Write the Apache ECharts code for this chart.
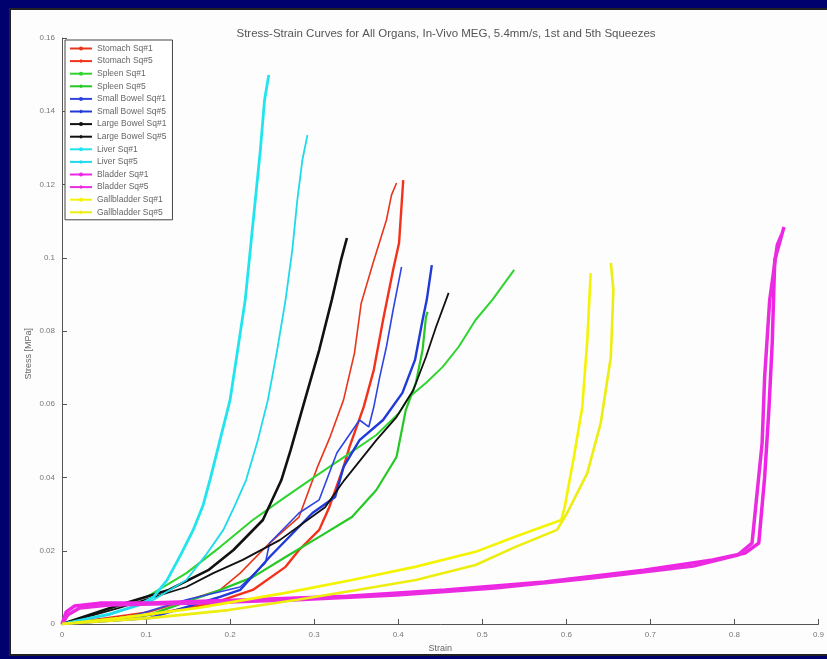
<!DOCTYPE html>
<html>
<head>
<meta charset="utf-8">
<script src="https://cdn.jsdelivr.net/npm/echarts@6/dist/echarts.min.js"></script>
<style>
html,body{margin:0;padding:0;width:827px;height:659px;overflow:hidden;background:#00006e;}
#panel{position:absolute;left:9px;top:8px;width:830px;height:648px;background:#fdfdfd;border:2px solid #222;box-sizing:border-box;}
#chart{position:absolute;left:0;top:0;width:827px;height:659px;}
</style>
</head>
<body>
<div id="panel"></div>
<div id="chart"></div>
<script>
const titleText = "Stress-Strain Curves for All Organs, In-Vivo MEG, 5.4mm/s, 1st and 5th Squeezes";
const xTicks = [0,0.1,0.2,0.3,0.4,0.5,0.6,0.7,0.8,0.9];
const yTicks = [0,0.02,0.04,0.06,0.08,0.1,0.12,0.14,0.16];
const seriesNames = ["Stomach Sq#1","Stomach Sq#5","Spleen Sq#1","Spleen Sq#5","Small Bowel Sq#1","Small Bowel Sq#5","Large Bowel Sq#1","Large Bowel Sq#5","Liver Sq#1","Liver Sq#5","Bladder Sq#1","Bladder Sq#5","Gallbladder Sq#1","Gallbladder Sq#5"];

const stomach1 = [[0,0],[0.104,0.0033],[0.188,0.0093],[0.212,0.0139],[0.247,0.0221],[0.282,0.0292],[0.304,0.0429],[0.319,0.0511],[0.335,0.0612],[0.348,0.0740],[0.356,0.0876],[0.370,0.0985],[0.386,0.1103],[0.392,0.1171],[0.398,0.1204]];
const stomach5 = [[0,0],[0.104,0.0025],[0.180,0.0057],[0.227,0.0093],[0.266,0.0156],[0.282,0.0202],[0.306,0.0257],[0.318,0.0319],[0.335,0.0429],[0.342,0.0483],[0.359,0.0593],[0.371,0.0694],[0.382,0.0830],[0.394,0.0967],[0.401,0.1040],[0.406,0.1212]];
const spleen1 = [[0,0],[0.045,0.0033],[0.101,0.0074],[0.148,0.0139],[0.188,0.0210],[0.227,0.0284],[0.266,0.0347],[0.304,0.0407],[0.339,0.0461],[0.374,0.0516],[0.401,0.0576],[0.413,0.0620],[0.433,0.0658],[0.453,0.0702],[0.472,0.0757],[0.492,0.0830],[0.512,0.0885],[0.538,0.0967]];
const spleen5 = [[0,0],[0.104,0.0025],[0.188,0.0093],[0.227,0.0128],[0.266,0.0183],[0.306,0.0238],[0.345,0.0292],[0.374,0.0366],[0.398,0.0456],[0.406,0.0549],[0.409,0.0584],[0.421,0.0658],[0.429,0.0748],[0.433,0.0838],[0.435,0.0852]];
const smallBowel1 = [[0,0],[0.080,0.0019],[0.148,0.0066],[0.212,0.0101],[0.242,0.0167],[0.247,0.0221],[0.282,0.0303],[0.306,0.0339],[0.327,0.0467],[0.354,0.0557],[0.365,0.0538],[0.371,0.0593],[0.378,0.0674],[0.386,0.0757],[0.394,0.0858],[0.404,0.0975]];
const smallBowel5 = [[0,0],[0.104,0.0016],[0.188,0.0074],[0.212,0.0093],[0.247,0.0183],[0.298,0.0303],[0.325,0.0347],[0.335,0.0429],[0.354,0.0502],[0.382,0.0557],[0.405,0.0631],[0.420,0.0721],[0.429,0.0830],[0.434,0.0885],[0.440,0.0980]];
const largeBowel1 = [[0,0],[0.068,0.0052],[0.127,0.0093],[0.174,0.0147],[0.204,0.0202],[0.239,0.0284],[0.261,0.0393],[0.272,0.0475],[0.289,0.0612],[0.306,0.0748],[0.321,0.0885],[0.332,0.0994],[0.339,0.1054]];
const largeBowel5 = [[0,0],[0.068,0.0044],[0.148,0.0101],[0.180,0.0139],[0.215,0.0175],[0.259,0.0229],[0.313,0.0319],[0.336,0.0393],[0.374,0.0502],[0.398,0.0565],[0.418,0.0639],[0.433,0.0729],[0.445,0.0811],[0.460,0.0904]];
const liver1 = [[0,0],[0.056,0.0027],[0.092,0.0052],[0.109,0.0074],[0.125,0.0120],[0.141,0.0188],[0.156,0.0256],[0.168,0.0325],[0.176,0.0393],[0.188,0.0502],[0.200,0.0612],[0.209,0.0748],[0.218,0.0885],[0.224,0.1021],[0.230,0.1158],[0.236,0.1294],[0.241,0.1431],[0.246,0.1499]];
const liver5 = [[0,0],[0.056,0.0025],[0.109,0.0066],[0.148,0.0120],[0.171,0.0188],[0.192,0.0257],[0.206,0.0325],[0.219,0.0393],[0.233,0.0502],[0.245,0.0612],[0.256,0.0748],[0.266,0.0885],[0.274,0.1021],[0.280,0.1158],[0.286,0.1267],[0.292,0.1335]];
const bladder1 = [[0,0],[0.005,0.0033],[0.015,0.0049],[0.045,0.0057],[0.104,0.0057],[0.221,0.0066],[0.339,0.0076],[0.456,0.0093],[0.574,0.0115],[0.692,0.0147],[0.774,0.0175],[0.813,0.0194],[0.829,0.0221],[0.836,0.0401],[0.841,0.0584],[0.845,0.0767],[0.848,0.0994],[0.859,0.1084]];
const bladder5 = [[0,0],[0.007,0.0025],[0.021,0.0044],[0.056,0.0052],[0.162,0.0057],[0.280,0.0066],[0.398,0.0079],[0.515,0.0098],[0.633,0.0126],[0.751,0.0158],[0.804,0.0188],[0.821,0.0221],[0.825,0.0312],[0.833,0.0494],[0.836,0.0675],[0.842,0.0885],[0.851,0.1035],[0.856,0.1062]];
const gallbladder1 = [[0,0],[0.068,0.0016],[0.162,0.0044],[0.266,0.0085],[0.345,0.0120],[0.420,0.0156],[0.492,0.0197],[0.539,0.0238],[0.594,0.0284],[0.598,0.0319],[0.609,0.0456],[0.619,0.0592],[0.625,0.0775],[0.629,0.0958]];
const gallbladder5 = [[0,0],[0.104,0.0016],[0.198,0.0038],[0.280,0.0066],[0.351,0.0093],[0.421,0.0120],[0.492,0.0161],[0.539,0.0210],[0.589,0.0257],[0.601,0.0303],[0.625,0.0412],[0.641,0.0549],[0.653,0.0729],[0.656,0.0912],[0.653,0.0986]];

const seriesData = [stomach1,stomach5,spleen1,spleen5,smallBowel1,smallBowel5,largeBowel1,largeBowel5,liver1,liver5,bladder1,bladder5,gallbladder1,gallbladder5];
const colors = ["#e8361c","#f2321a","#2fd42f","#25c825","#2f44e0","#1f3ad8","#111111","#111111","#22e4ee","#1fdaea","#f024e6","#ea2ce0","#f4f400","#eded10"];
const widths = [1.6,2.4,2,2.2,1.6,2.4,2.6,1.8,2.8,1.8,3.5,3.5,2.6,2.6];

const chart = echarts.init(document.getElementById('chart'), null, {renderer:'canvas'});
const series = seriesNames.map((n,i)=>({
  name:n, type:'line', data:seriesData[i], showSymbol:false, symbol: (i%2===1)?'diamond':'circle', symbolSize:3,
  lineStyle:{color:colors[i], width:widths[i]}, itemStyle:{color:colors[i]}, smooth:false, z: 2+i,
  emphasis:{disabled:true}
}));
const fontFam = "'Liberation Sans',Arial,sans-serif";
chart.setOption({
  animation:false,
  backgroundColor:'transparent',
  title:{text:titleText,left:441,textAlign:'center',top:23,textStyle:{fontSize:11.5,fontWeight:'normal',color:'#555',fontFamily:fontFam}},
  grid:{left:62,right:1,top:38,bottom:35,containLabel:false},
  legend:{orient:'vertical',left:65,top:40,itemGap:3.6,itemWidth:22,itemHeight:5,padding:[4,6,3,4],
    backgroundColor:'#fff',borderColor:'#444',borderWidth:1,
    textStyle:{fontSize:8.5,lineHeight:9,color:'#666',fontFamily:fontFam},data:seriesNames},
  graphic:[{type:'text',left:24,top:328,rotation:Math.PI/2,style:{text:'Stress [MPa]',fontSize:9,fill:'#666',fontFamily:fontFam},silent:true}],
  xAxis:{type:'value',min:0,max:0.9,interval:0.1,name:'Strain',nameLocation:'middle',nameGap:18,
    nameTextStyle:{fontSize:9,color:'#666',fontFamily:fontFam},
    axisLine:{show:true,lineStyle:{color:'#555',width:1}},axisTick:{show:true,inside:true,length:5,lineStyle:{color:'#555'}},
    axisLabel:{fontSize:8,color:'#777',fontFamily:fontFam,margin:7,formatter:v=>String(+v.toFixed(2))},splitLine:{show:false}},
  yAxis:{type:'value',min:0,max:0.16,interval:0.02,
    axisLine:{show:true,lineStyle:{color:'#555',width:1}},axisTick:{show:true,inside:true,length:5,lineStyle:{color:'#555'}},
    axisLabel:{fontSize:8,color:'#777',fontFamily:fontFam,margin:7,formatter:v=>String(+v.toFixed(2))},splitLine:{show:false}},
  series:series
});
</script>
</body>
</html>
